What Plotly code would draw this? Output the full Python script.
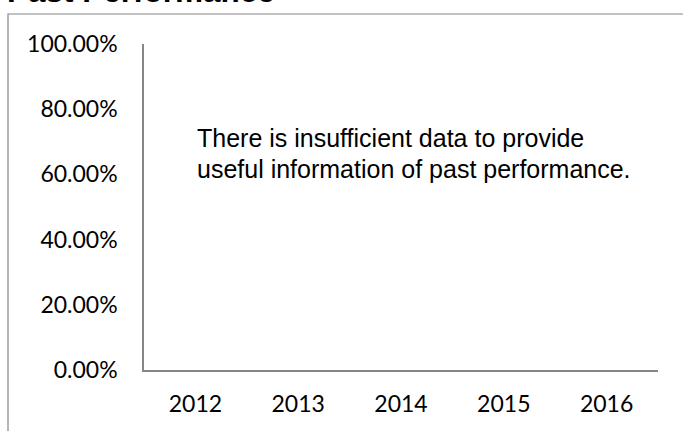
import plotly.graph_objects as go

# Data (the chart shows no values: insufficient data)
years = ["2012", "2013", "2014", "2015", "2016"]
returns = [None, None, None, None, None]
y_ticks = [0, 0.2, 0.4, 0.6, 0.8, 1.0]
title_text = "Past Performance"
note_lines = ["There is insufficient data to provide",
              "useful information of past performance."]

W, H = 683, 431
L, R, T, B = 144, 25, 44, 61
pw, ph = W - L - R, H - T - B

def px_x(x):
    return (x - L) / pw

def px_y(y):
    return 1 - (y - T) / ph

fig = go.Figure()
fig.add_trace(go.Scatter(x=years, y=returns, mode="lines",
                         line=dict(color="#4472C4"), showlegend=False))

axis_col = "#868686"
tick_font = dict(family="Lato", size=23, color="#000000")

fig.update_layout(
    width=W, height=H,
    margin=dict(l=L, r=R, t=T, b=B),
    paper_bgcolor="white", plot_bgcolor="white",
    showlegend=False,
    xaxis=dict(type="category", categoryorder="array", categoryarray=years,
               range=[-0.5, len(years) - 0.5],
               showline=True, linecolor=axis_col, linewidth=1.5,
               showgrid=False, zeroline=False, ticks="",
               tickfont=tick_font, ticklabelstandoff=13),
    yaxis=dict(range=[0, 1], tickvals=y_ticks, tickformat=".2%",
               showline=True, linecolor=axis_col, linewidth=1.5,
               showgrid=False, zeroline=False, ticks="",
               tickfont=tick_font, ticklabelstandoff=20),
)

# outer chart border (extends past the visible image on right and bottom)
fig.add_shape(type="rect", xref="paper", yref="paper",
              x0=px_x(8), x1=px_x(700), y0=px_y(450), y1=px_y(14),
              line=dict(color=axis_col, width=1.2), fillcolor="rgba(0,0,0,0)",
              layer="below")

# title (partly cut off at top)
fig.add_annotation(text="<b>" + title_text + "</b>", xref="paper", yref="paper",
                   x=px_x(5), y=px_y(10.5), xanchor="left", yanchor="bottom",
                   showarrow=False,
                   font=dict(family="Liberation Sans", size=31.5, color="#000000"))

# note text
for i, line in enumerate(note_lines):
    fig.add_annotation(text=line, xref="paper", yref="paper",
                       x=px_x(195), y=px_y(154.5 + 30 * i),
                       xanchor="left", yanchor="bottom", showarrow=False,
                       font=dict(family="Liberation Sans", size=25, color="#000000"))

fig.write_html("out.html",
               config={"displayModeBar": False},
               post_script="document.body.style.margin='0';"
                           "document.body.style.overflow='hidden';")
